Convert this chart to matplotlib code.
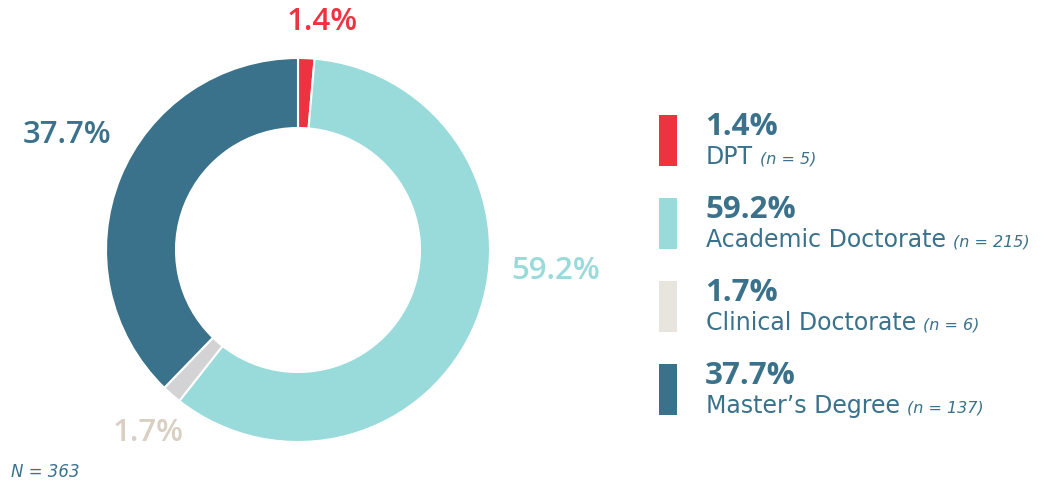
import matplotlib.pyplot as plt
from matplotlib.patches import Rectangle

# data
labels = ['DPT', 'Academic Doctorate', 'Clinical Doctorate', "Master\u2019s Degree"]
counts = [5, 215, 6, 137]
pcts = ['1.4%', '59.2%', '1.7%', '37.7%']
total_n = 363

pie_colors = ['#EE3340', '#99DBDA', '#D3D3D6', '#3A718B']
swatch_colors = ['#EE3340', '#99DBDA', '#E8E4DE', '#3A718B']
label_colors = ['#EE3340', '#99DBDA', '#D9CFC3', '#3A718B']
text_col = '#3A718B'

num_font = ['Open Sans', 'DejaVu Sans']
txt_font = ['DejaVu Sans']

fig = plt.figure(figsize=(10.44, 4.83), dpi=100)
ax = fig.add_axes([0, 0, 1, 1])

# donut (y axis is flipped, so counterclock=True draws clockwise on screen)
cx, cy, r_out = 298, 250, 192
ax.pie(counts, colors=pie_colors, startangle=-90, counterclock=True,
       center=(cx, cy), radius=r_out, frame=True,
       wedgeprops=dict(width=70, edgecolor='white', linewidth=1.5))
ax.set_xlim(0, 1044)
ax.set_ylim(483, 0)
ax.set_aspect('equal')
ax.axis('off')

# outside labels: DPT, Academic, Clinical, Master's
lab_pos = [(322, 22, 'center'), (511, 271, 'left'), (184, 433, 'right'), (111, 135, 'right')]
for (x, y, ha), p, c in zip(lab_pos, pcts, label_colors):
    ax.text(x, y, p, color=c, fontsize=22.5, fontweight='semibold', family=num_font,
            ha=ha, va='center')

# legend
tops = [115, 198, 281, 364]
fig.canvas.draw()
renderer = fig.canvas.get_renderer()
for t, p, lab, n, c in zip(tops, pcts, labels, counts, swatch_colors):
    ax.add_patch(Rectangle((659, t), 18, 51, color=c, lw=0))
    ax.text(705, t + 12, p, color=text_col, fontsize=22.5, fontweight='bold',
            family=num_font, va='center')
    txt = ax.text(706, t + 42, lab, color=text_col, fontsize=17, family=txt_font,
                  va='center')
    x_end = txt.get_window_extent(renderer).x1  # data x == pixels
    ax.text(x_end + 7, t + 44, '(n = %d)' % n, color=text_col, fontsize=11.5,
            family=txt_font, style='italic', va='center')

ax.text(11, 472, 'N = %d' % total_n, color=text_col, fontsize=12, family=txt_font,
        style='italic', va='center')

fig.savefig('out.png', dpi=100)
